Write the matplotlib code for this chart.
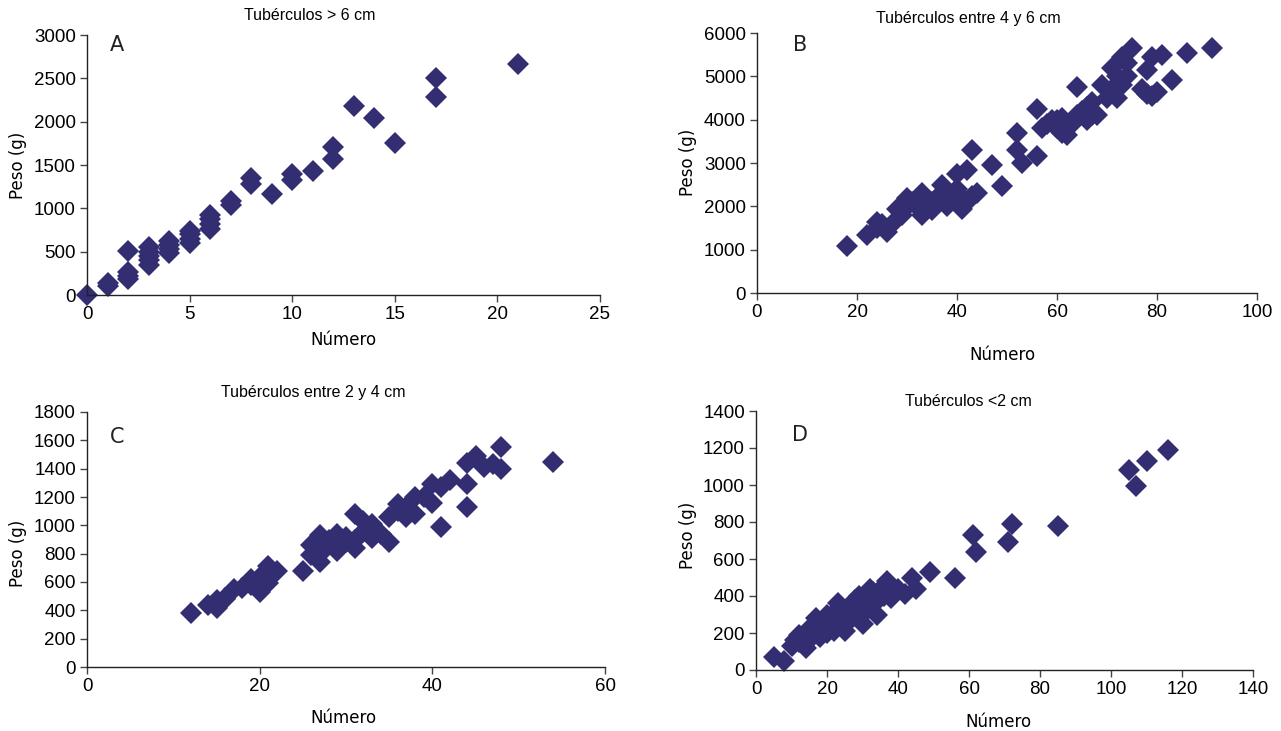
import matplotlib
matplotlib.use("Agg")
import matplotlib.pyplot as plt

# Panel A: tubérculos > 6 cm
a_num = [0, 1, 1, 2, 2, 2, 2, 3, 3, 3, 3, 3, 4, 4, 4, 4, 5, 5, 5, 5,
         6, 6, 6, 6, 7, 7, 8, 8, 9, 10, 10, 11, 12, 12, 13, 14, 15, 17, 17, 21]
a_peso = [0, 100, 140, 510, 180, 220, 260, 350, 400, 450, 500, 550, 480, 530, 580, 620,
          600, 650, 700, 740, 760, 820, 880, 920, 1040, 1090, 1280, 1350, 1170, 1330, 1400,
          1430, 1570, 1710, 2180, 2040, 1750, 2500, 2280, 2660]

# Panel B: tubérculos entre 4 y 6 cm
b_num = [18, 22, 24, 26, 28, 30, 33, 33, 35, 37, 38, 40, 41, 43, 42, 43, 47, 49,
         52, 52, 53, 56, 56, 57, 59, 61, 62, 64, 66, 67, 68, 71, 71, 73, 75, 74, 72,
         78, 79, 81, 77, 79, 80, 83, 86, 91,
         24, 25, 27, 29, 29, 31, 32, 34, 35, 36, 37, 38, 39, 40, 40, 41, 42, 44,
         58, 60, 60, 61, 63, 64, 65, 66, 67, 69, 70, 72, 73, 74, 78]
b_peso = [1080, 1350, 1650, 1400, 1950, 2200, 2300, 1800, 1920, 2500, 2000, 2750, 1950,
          3300, 2850, 2250, 2950, 2470, 3700, 3300, 3000, 3170, 4250, 3800, 4000, 3700,
          3650, 4750, 4000, 4400, 4100, 4700, 5200, 5450, 5650, 5000, 4500, 5150, 5450,
          5500, 4700, 4550, 4650, 4920, 5550, 5650,
          1500, 1600, 1600, 1800, 1900, 2100, 2000, 2050, 2100, 2200, 2300, 2350, 2200,
          2100, 2400, 2200, 2100, 2300,
          3900, 4000, 3800, 4050, 3900, 4100, 4200, 4300, 4100, 4800, 4500, 5000, 4800,
          5300, 4600]

# Panel C: tubérculos entre 2 y 4 cm
c_num = [12, 14, 15, 15, 16, 17, 18, 19, 20, 21, 20, 21, 22, 25, 26, 27, 27, 26, 28,
         29, 29, 30, 31, 31, 32, 33, 33, 35, 34, 35, 36, 37, 37, 38, 38, 39, 40, 40, 41,
         41, 42, 44, 44, 44, 45, 46, 47, 48, 48, 54,
         16, 19, 20, 21, 27, 28, 29, 30, 31, 32, 33, 36, 37]
c_peso = [380, 440, 420, 470, 490, 550, 560, 620, 530, 710, 635, 590, 680, 680, 790,
          930, 740, 860, 870, 820, 940, 920, 1080, 840, 1030, 1010, 910, 880, 940, 1060,
          1150, 1060, 1130, 1200, 1080, 1200, 1290, 1160, 1270, 990, 1320, 1290, 1130,
          1440, 1490, 1410, 1430, 1400, 1550, 1450,
          480, 580, 600, 640, 800, 900, 860, 880, 900, 950, 970, 1100, 1120]

# Panel D: tubérculos < 2 cm
d_num = [5, 8, 11, 14, 17, 20, 23, 25, 28, 30, 32, 34, 37, 39, 42, 44, 45, 49, 56,
         61, 62, 71, 72, 85, 105, 107, 110, 116,
         10, 12, 12, 13, 14, 15, 15, 16, 16, 17, 18, 18, 19, 20, 20, 21, 21, 22, 22,
         23, 24, 24, 25, 26, 26, 27, 27, 28, 29, 29, 30, 31, 31, 32, 33, 33, 34, 35,
         36, 37, 38, 40]
d_peso = [70, 50, 160, 120, 280, 300, 360, 210, 380, 250, 440, 300, 480, 410, 410,
          500, 440, 530, 500, 730, 640, 690, 790, 780, 1080, 995, 1130, 1190,
          130, 150, 190, 170, 200, 160, 220, 190, 240, 210, 180, 250, 230, 260, 200,
          240, 290, 270, 210, 300, 250, 330, 290, 320, 260, 300, 350, 330, 290, 400,
          350, 320, 380, 400, 350, 420, 380, 430, 400, 440, 390, 440]

panels = [
    dict(x=a_num, y=a_peso, box=(87, 35, 600, 295), xlim=25, xstep=5, ylim=3000,
         ystep=500, title="Tubérculos > 6 cm", tpos=(310, 15), letter="A",
         lpos=(117, 45), xlpos=(343, 340), ylpos=(18, 165)),
    dict(x=b_num, y=b_peso, box=(757, 33, 1257, 293), xlim=100, xstep=20, ylim=6000,
         ystep=1000, title="Tubérculos entre 4 y 6 cm", tpos=(968, 18), letter="B",
         lpos=(800, 45), xlpos=(1002, 355), ylpos=(688, 162)),
    dict(x=c_num, y=c_peso, box=(87, 412, 605, 667), xlim=60, xstep=20, ylim=1800,
         ystep=200, title="Tubérculos entre 2 y 4 cm", tpos=(313, 392), letter="C",
         lpos=(117, 437), xlpos=(343, 718), ylpos=(18, 553)),
    dict(x=d_num, y=d_peso, box=(756, 411, 1253, 670), xlim=140, xstep=20, ylim=1400,
         ystep=200, title="Tubérculos <2 cm", tpos=(968, 401), letter="D",
         lpos=(800, 435), xlpos=(998, 722), ylpos=(688, 535)),
]

W, H = 1281, 731
MARKER_COLOR = "#332D72"
TICK_FONT = ["Liberation Sans", "DejaVu Sans"]
LABEL_FONT = ["DejaVu Sans"]

fig = plt.figure(figsize=(W / 100, H / 100), dpi=100)

for p in panels:
    x0, y0, x1, y1 = p["box"]
    ax = fig.add_axes([x0 / W, 1 - y1 / H, (x1 - x0) / W, (y1 - y0) / H])
    ax.plot(p["x"], p["y"], linestyle="none", marker="D", markersize=11.5,
            color=MARKER_COLOR, markeredgewidth=0, clip_on=False)
    ax.set_xlim(0, p["xlim"])
    ax.set_ylim(0, p["ylim"])
    ax.set_xticks(range(0, p["xlim"] + 1, p["xstep"]))
    ax.set_yticks(range(0, p["ylim"] + 1, p["ystep"]))
    for side in ("top", "right"):
        ax.spines[side].set_visible(False)
    for side in ("left", "bottom"):
        ax.spines[side].set_color("#222222")
        ax.spines[side].set_linewidth(1.0)
    ax.tick_params(direction="out", length=5, width=1, color="#444444", pad=3,
                   labelsize=13.5)
    for lab in ax.get_xticklabels() + ax.get_yticklabels():
        lab.set_fontfamily(TICK_FONT)
    fig.text(p["tpos"][0] / W, 1 - p["tpos"][1] / H, p["title"], ha="center",
             va="center", fontsize=11.5, family=TICK_FONT)
    fig.text(p["lpos"][0] / W, 1 - p["lpos"][1] / H, p["letter"], ha="center",
             va="center", fontsize=15, family=LABEL_FONT, color="#222222")
    fig.text(p["xlpos"][0] / W, 1 - p["xlpos"][1] / H, "Número", ha="center",
             va="center", fontsize=12, family=LABEL_FONT)
    fig.text(p["ylpos"][0] / W, 1 - p["ylpos"][1] / H, "Peso (g)", ha="center",
             va="center", fontsize=12, rotation=90, family=LABEL_FONT)

fig.savefig("out.png", dpi=100)
